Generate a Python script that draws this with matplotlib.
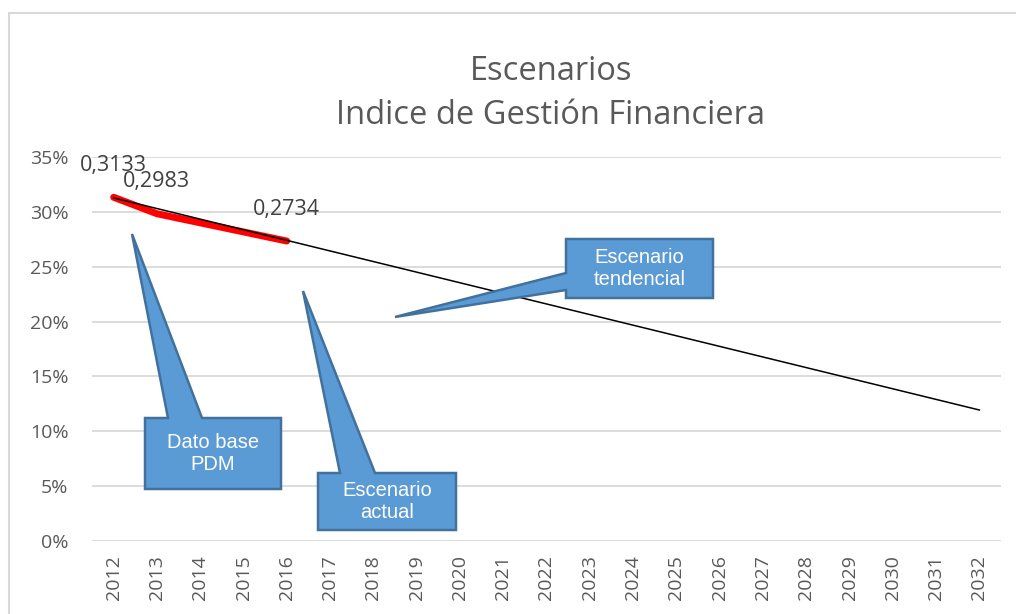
import matplotlib
matplotlib.use("Agg")
import matplotlib.pyplot as plt
from matplotlib.patches import Polygon, Rectangle
from matplotlib.ticker import FuncFormatter

# -------------------- DATOS --------------------
anios = [str(a) for a in range(2012, 2033)]
actual_idx = [0, 1, 2, 3, 4]  # 2012 - 2016
actual_val = [0.3133, 0.2983, 0.2900, 0.2817, 0.2734]
etiquetas_idx = [0, 1, 4]
etiquetas_txt = ["0,3133", "0,2983", "0,2734"]
tendencia_idx = [0, 20]  # 2012 y 2032
tendencia_val = [0.3127, 0.1194]

GRIS = "#595959"
AZUL = "#5B9BD5"
BORDE = "#41719C"

W, H = 1016, 614
fig = plt.figure(figsize=(W / 100, H / 100), dpi=100)

# marco del gráfico
fig.patches.append(Rectangle((8.5 / W, -0.1), 1.2, 1 - 12.5 / H + 0.1, transform=fig.transFigure,
                             fill=False, edgecolor="#D9D9D9", linewidth=1.5))

ax = fig.add_axes([92 / W, 1 - 541 / H, (1001 - 92) / W, (541 - 157) / H])
ax.set_xlim(-0.5, len(anios) - 0.5)
ax.set_ylim(0, 0.35)
ax.set_yticks([0, 0.05, 0.10, 0.15, 0.20, 0.25, 0.30, 0.35])
ax.yaxis.set_major_formatter(FuncFormatter(lambda v, p: f"{v * 100:.0f}%"))
ax.set_xticks(range(len(anios)))
ax.set_xticklabels(anios, rotation=90)
ax.grid(axis="y", color="#D9D9D9", linewidth=1.3)
ax.set_axisbelow(True)
for s in ax.spines.values():
    s.set_visible(False)
ax.tick_params(axis="both", length=0, colors=GRIS, labelsize=14)
ax.tick_params(axis="y", pad=17)
ax.tick_params(axis="x", pad=10)
for lab in ax.get_xticklabels() + ax.get_yticklabels():
    lab.set_fontfamily("Open Sans")

# series
ax.plot(actual_idx, actual_val, color="#FF0000", linewidth=5, solid_capstyle="round", zorder=3)
ax.plot(tendencia_idx, tendencia_val, color="black", linewidth=1.1, zorder=4)

for i, t in zip(etiquetas_idx, etiquetas_txt):
    ax.annotate(t, (i, actual_val[i]), xytext=(0, 32), textcoords="offset pixels",
                ha="center", va="center", fontsize=15.5, color="#404040", family="Open Sans")

# título
fig.text(551 / W, 1 - 72 / H, "Escenarios", ha="center", va="center",
         fontsize=23.5, color=GRIS, family="Open Sans")
fig.text(551 / W, 1 - 115 / H, "Indice de Gestión Financiera", ha="center", va="center",
         fontsize=23.5, color=GRIS, family="Open Sans")


# -------------------- LLAMADAS (callouts) --------------------
def px(x, y):
    return (x / W, 1 - y / H)


def llamada(caja, punta, base, lado, texto):
    """Caja con cuña unida en un solo contorno (lado 'arriba' o 'izq')."""
    x0, y0, x1, y1 = caja
    a, b = base
    if lado == "arriba":
        pts = [(x0, y0), (a, y0), punta, (b, y0), (x1, y0), (x1, y1), (x0, y1)]
    else:
        pts = [(x0, y0), (x1, y0), (x1, y1), (x0, y1), (x0, b), punta, (x0, a)]
    fig.patches.append(Polygon([px(*p) for p in pts], closed=True, transform=fig.transFigure,
                               facecolor=AZUL, edgecolor=BORDE, linewidth=1.8,
                               joinstyle="miter", zorder=5))
    fig.text((x0 + x1) / 2 / W, 1 - (y0 + y1) / 2 / H, texto, ha="center", va="center",
             fontsize=14.5, color="white", family="Liberation Sans", linespacing=1.2, zorder=7)


llamada((145, 418, 281, 489), (132, 234), (168, 202), "arriba", "Dato base\nPDM")
llamada((318, 473, 456, 530), (303, 291), (340, 375), "arriba", "Escenario\nactual")
llamada((566, 239, 713, 298), (395, 317), (273, 290), "izq", "Escenario\ntendencial")

fig.savefig("out.png", dpi=100)
